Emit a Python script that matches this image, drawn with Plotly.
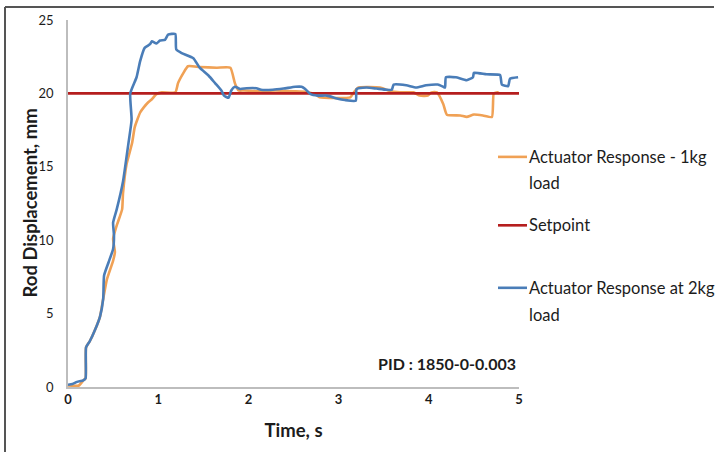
import plotly.graph_objects as go

# Actuator response with 1 kg load
time_1kg = [0.00, 0.12, 0.17, 0.195, 0.20, 0.24, 0.30, 0.355, 0.39, 0.43, 0.50, 0.52, 0.50, 0.54,
            0.60, 0.61, 0.65, 0.71, 0.74, 0.80, 0.84, 0.89, 0.93, 0.98, 1.04, 1.19, 1.22, 1.28,
            1.33, 1.46, 1.65, 1.80, 1.85, 1.89, 1.95, 2.10, 2.30, 2.50, 2.65, 2.75, 2.79, 3.13,
            3.16, 3.22, 3.46, 3.55, 3.68, 3.83, 3.90, 3.99, 4.03, 4.09, 4.16, 4.20, 4.35, 4.42,
            4.50, 4.60, 4.70, 4.72, 4.76, 4.78]
disp_1kg = [0.10, 0.10, 0.45, 0.60, 2.70, 3.10, 3.90, 4.80, 6.00, 7.30, 8.60, 9.20, 10.10, 11.00,
            12.10, 13.20, 15.20, 16.60, 17.70, 18.70, 19.05, 19.40, 19.60, 19.95, 20.07, 20.07,
            20.70, 21.40, 21.85, 21.80, 21.75, 21.75, 20.70, 20.20, 20.20, 20.15, 20.20, 20.15,
            20.10, 19.90, 19.73, 19.73, 20.00, 20.40, 20.40, 20.20, 20.07, 20.07, 19.85, 19.85,
            20.07, 20.07, 19.28, 18.55, 18.50, 18.40, 18.56, 18.50, 18.40, 20.00, 20.07, 20.00]

# Setpoint
time_sp = [0, 5]
disp_sp = [20, 20]

# Actuator response with 2 kg load
time_2kg = [0.00, 0.05, 0.10, 0.17, 0.195, 0.20, 0.24, 0.30, 0.355, 0.39, 0.40, 0.45, 0.50, 0.51,
            0.50, 0.54, 0.61, 0.67, 0.705, 0.69, 0.76, 0.80, 0.85, 0.91, 0.93, 0.98, 1.02, 1.075,
            1.11, 1.19, 1.20, 1.26, 1.39, 1.46, 1.56, 1.63, 1.70, 1.73, 1.78, 1.81, 1.85, 1.91,
            1.98, 2.09, 2.14, 2.27, 2.39, 2.52, 2.59, 2.63, 2.69, 2.77, 2.87, 2.98, 3.07, 3.19,
            3.20, 3.31, 3.42, 3.53, 3.59, 3.61, 3.75, 3.86, 3.97, 4.10, 4.16, 4.18, 4.19, 4.30,
            4.42, 4.49, 4.50, 4.64, 4.79, 4.81, 4.88, 4.90, 4.99]
disp_2kg = [0.15, 0.20, 0.35, 0.45, 0.60, 2.70, 3.10, 3.90, 4.80, 6.00, 7.60, 8.50, 9.40, 10.30,
            11.20, 12.10, 14.00, 16.60, 18.20, 20.00, 21.10, 22.20, 23.10, 23.35, 23.55, 23.40,
            23.60, 23.65, 24.00, 24.05, 23.00, 22.75, 22.40, 21.75, 21.20, 20.70, 20.20, 19.85,
            19.70, 20.20, 20.45, 20.30, 20.35, 20.35, 20.25, 20.25, 20.33, 20.45, 20.45, 20.30,
            19.95, 19.85, 19.85, 19.66, 19.55, 19.50, 20.30, 20.40, 20.33, 20.25, 20.25, 20.60,
            20.55, 20.40, 20.55, 20.60, 20.45, 20.40, 21.10, 21.10, 20.90, 21.10, 21.40, 21.30,
            21.25, 20.60, 20.50, 21.00, 21.10]

series_names = ["Actuator Response - 1kg load", "Setpoint", "Actuator Response at 2kg load"]
series_colors = ["#F0A155", "#B51E1E", "#4A7DB8"]
legend_lines = [["Actuator Response - 1kg", "load"], ["Setpoint"], ["Actuator Response at 2kg", "load"]]

FONT = "Lato, 'Open Sans', sans-serif"
TEXT = "#1c1c1c"

# plot-area geometry in pixels (used to place chart furniture)
W, H = 720, 452
L, R, T, B = 68, 519, 17, 387


def px_x(p):
    return (p - L) / (R - L)


def px_y(p):
    return (B - p) / (B - T)


fig = go.Figure()
for (t, d), name, color in zip([(time_1kg, disp_1kg), (time_sp, disp_sp), (time_2kg, disp_2kg)],
                               series_names, series_colors):
    fig.add_trace(go.Scatter(x=t, y=d, mode="lines", name=name,
                             line=dict(color=color, width=2.6, shape="spline", smoothing=0.45),
                             showlegend=False))

shapes = []
annotations = []

# legend drawn beside the plot
legend_y = [[155, 181], [224], [287, 314]]
for lines, ys, color in zip(legend_lines, legend_y, series_colors):
    shapes.append(dict(type="line", xref="paper", yref="paper",
                       x0=px_x(498), x1=px_x(527), y0=px_y(ys[0]), y1=px_y(ys[0]),
                       line=dict(color=color, width=2.6)))
    for txt, yy in zip(lines, ys):
        annotations.append(dict(text=txt, xref="paper", yref="paper", x=px_x(527), y=px_y(yy),
                                xanchor="left", yanchor="middle", showarrow=False,
                                font=dict(family=FONT, size=16.5, color=TEXT)))

annotations.append(dict(text="<b>PID : 1850-0-0.003</b>", xref="paper", yref="paper",
                        x=px_x(518), y=px_y(363), xanchor="right", yanchor="middle",
                        showarrow=False, font=dict(family=FONT, size=16, color=TEXT)))

# vertical axis title
annotations.append(dict(text="<b>Rod Displacement, mm</b>", xref="paper", yref="paper",
                        x=px_x(29), y=px_y(202), xanchor="center", yanchor="middle",
                        textangle=-90, showarrow=False,
                        font=dict(family=FONT, size=18.5, color=TEXT)))

# chart-area frame
shapes.append(dict(type="line", xref="paper", yref="paper", x0=px_x(5), x1=px_x(714),
                   y0=px_y(4), y1=px_y(4), line=dict(color="#555555", width=2)))
shapes.append(dict(type="line", xref="paper", yref="paper", x0=px_x(5), x1=px_x(5),
                   y0=px_y(4), y1=px_y(460), line=dict(color="#555555", width=2)))

fig.update_layout(
    width=W, height=H,
    margin=dict(l=L, r=W - R, t=T, b=H - B),
    paper_bgcolor="white", plot_bgcolor="white",
    font=dict(family=FONT, color=TEXT),
    shapes=shapes, annotations=annotations,
    xaxis=dict(range=[0, 5], tickvals=[0, 1, 2, 3, 4, 5], showgrid=False, zeroline=False,
               showline=True, linecolor="#BDBDBD", linewidth=1.5, ticks="",
               tickfont=dict(family=FONT, size=13, color=TEXT, weight="bold"),
               title=dict(text="<b>Time, s</b>", font=dict(family=FONT, size=18.5, color=TEXT),
                          standoff=18)),
    yaxis=dict(range=[0, 25], tickvals=[0, 5, 10, 15, 20, 25], showgrid=False, zeroline=False,
               showline=True, linecolor="#BDBDBD", linewidth=1.5, ticks="", ticklabelstandoff=10,
               tickfont=dict(family=FONT, size=13, color=TEXT)),
)

fig.write_html("out.html")
